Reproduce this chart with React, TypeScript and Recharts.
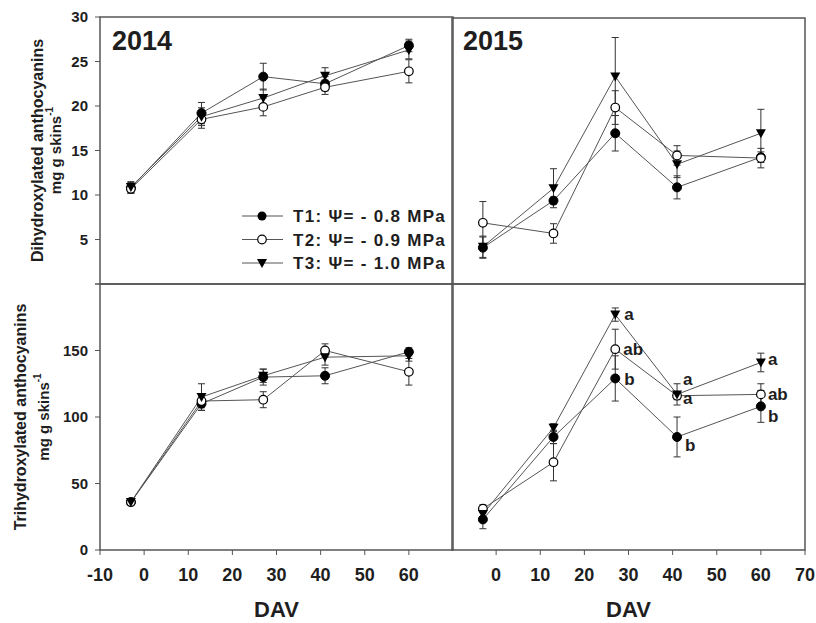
import React from 'react';
import { ErrorBar, LabelList, Line, LineChart, ReferenceArea, XAxis, YAxis } from 'recharts';

// sampling dates (days after veraison)
const DAV = [-3, 13, 27, 41, 60];

// Dihydroxylated anthocyanins, 2014
const di14T1 = [10.8, 19.2, 23.3, 22.5, 26.8];
const di14T2 = [10.7, 18.5, 19.9, 22.1, 23.9];
const di14T3 = [10.9, 18.8, 20.9, 23.4, 26.3];
const di14E1 = [0.6, 1.2, 1.5, 0.8, 0.7];
const di14E2 = [0.5, 1.0, 1.0, 0.8, 1.3];
const di14E3 = [0.6, 1.0, 1.0, 0.9, 1.0];

// Dihydroxylated anthocyanins, 2015
const di15T1 = [4.1, 9.4, 17.0, 10.9, 14.3];
const di15T2 = [6.9, 5.7, 19.9, 14.5, 14.2];
const di15T3 = [4.2, 10.8, 23.4, 13.5, 17.0];
const di15E1 = [1.2, 0.4, 2.0, 1.3, 0.6];
const di15E2 = [2.4, 1.1, 1.9, 1.1, 1.1];
const di15E3 = [1.2, 2.2, 4.4, 1.5, 2.7];

// Trihydroxylated anthocyanins, 2014
const tri14T1 = [36, 110, 130, 131, 149];
const tri14T2 = [36, 112, 113, 150, 134];
const tri14T3 = [36, 115, 131, 145, 146];
const tri14E1 = [2, 5, 6, 6, 3];
const tri14E2 = [2, 5, 6, 5, 10];
const tri14E3 = [2, 10, 5, 6, 4];

// Trihydroxylated anthocyanins, 2015
const tri15T1 = [23, 85, 129, 85, 108];
const tri15T2 = [31, 66, 151, 116, 117];
const tri15T3 = [27, 92, 177, 117, 141];
const tri15E1 = [7, 5, 17, 15, 12];
const tri15E2 = [3, 14, 15, 3, 8];
const tri15E3 = [3, 3, 5, 8, 7];
const tri15L1 = ['', '', 'b', 'b', 'b'];
const tri15L2 = ['', '', 'ab', 'a', 'ab'];
const tri15L3 = ['', '', 'a', 'a', 'a'];

const LEGEND = ['T1: Ψ= - 0.8 MPa', 'T2: Ψ= - 0.9 MPa', 'T3: Ψ= - 1.0 MPa'];

const TICKS_X_LEFT = [-10, 0, 10, 20, 30, 40, 50, 60];
const TICKS_X_RIGHT = [0, 10, 20, 30, 40, 50, 60, 70];
const TICKS_Y_DI = [0, 5, 10, 15, 20, 25, 30];
const TICKS_Y_TRI = [0, 50, 100, 150, 200];

const FONT = '"Liberation Sans", Arial, sans-serif';
const INK = '#1e1e1e';
const LINE = '#555';

// where the significance letters sit next to their point
const LETTER_OFFSETS: Record<string, Array<[number, number]>> = {
  l1: [[0, 0], [0, 0], [9, 1], [8, 9], [7, 10]],
  l2: [[0, 0], [0, 0], [8, 0], [6, 3], [7, 0]],
  l3: [[0, 0], [0, 0], [9, 0], [6, -15], [7, -3]],
};

function rows(
  t1: number[], t2: number[], t3: number[],
  e1: number[], e2: number[], e3: number[],
  l1: string[] = [], l2: string[] = [], l3: string[] = [],
) {
  return DAV.map((x, i) => ({
    x, t1: t1[i], t2: t2[i], t3: t3[i], e1: e1[i], e2: e2[i], e3: e3[i],
    l1: l1[i] ?? '', l2: l2[i] ?? '', l3: l3[i] ?? '',
  }));
}

const filledDot = (p: any) =>
  p.cx == null ? null : <circle key={`a${p.index}`} cx={p.cx} cy={p.cy} r={4.5} fill="#000" stroke="#000" />;
const openDot = (p: any) =>
  p.cx == null ? null : <circle key={`b${p.index}`} cx={p.cx} cy={p.cy} r={4.3} fill="#fff" stroke="#000" strokeWidth={1.2} />;
const triDot = (p: any) =>
  p.cx == null ? null : (
    <path key={`c${p.index}`} d={`M${p.cx - 5},${p.cy - 4}L${p.cx + 5},${p.cy - 4}L${p.cx},${p.cy + 5}Z`} fill="#000" />
  );

const letterLabel = (key: string) => (p: any) => {
  if (!p.value) return null;
  const [dx, dy] = LETTER_OFFSETS[key][p.index] ?? [8, 0];
  return (
    <text key={`${key}${p.index}`} x={p.x + dx} y={p.y + dy} dominantBaseline="central"
      fontFamily={FONT} fontWeight="bold" fontSize={17} fill={INK}>
      {p.value}
    </text>
  );
};

interface PanelProps {
  data: ReturnType<typeof rows>;
  left: number;
  top: number;
  width: number;
  height: number;
  margin: { top: number; right: number; bottom: number; left: number };
  yMax: number;
  yTicks: number[];
  hiddenTick?: number;
  showY: boolean;
  xTicks?: number[];
  yLabel?: [string, number, number];
  letters?: boolean;
}

function Panel({ data, left, top, width, height, margin, yMax, yTicks, hiddenTick, showY, xTicks, yLabel, letters }: PanelProps) {
  const tickStyle = { fontFamily: FONT, fontWeight: 'bold' as const, fill: INK };
  return (
    <div style={{ position: 'absolute', left, top }}>
      <LineChart width={width} height={height} data={data} margin={margin} style={{ overflow: 'visible' }}>
        {xTicks ? (
          <XAxis dataKey="x" type="number" domain={[-10, 70]} ticks={xTicks} axisLine={false}
            tickSize={5} tickMargin={13} height={height - margin.top - margin.bottom - 266}
            tickLine={{ stroke: LINE }} tick={{ ...tickStyle, fontSize: 18 }} interval={0}
            label={{
              content: ({ viewBox }: any) => (
                <text x={viewBox.x + viewBox.width / 2} y={viewBox.y + 67} textAnchor="middle"
                  fontFamily={FONT} fontWeight="bold" fontSize={22} fill={INK}>DAV</text>
              ),
            }} />
        ) : (
          <XAxis dataKey="x" type="number" domain={[-10, 70]} hide />
        )}
        {showY ? (
          <YAxis type="number" domain={[0, yMax]} ticks={yTicks} width={100} axisLine={false}
            tickSize={5} tickMargin={7} tickLine={{ stroke: LINE }} interval={0}
            tick={{ ...tickStyle, fontSize: 15 }}
            tickFormatter={(v: number) => (v === hiddenTick ? '' : String(v))}
            label={{
              content: ({ viewBox }: any) => {
                const cy = viewBox.y + viewBox.height / 2;
                const [title, x1, x2] = yLabel!;
                return (
                  <g fontFamily={FONT} fontWeight="bold" fill={INK}>
                    <text x={x1} y={cy} transform={`rotate(-90 ${x1} ${cy})`} textAnchor="middle"
                      dominantBaseline="central" fontSize={16}>{title}</text>
                    <text x={x2} y={cy} transform={`rotate(-90 ${x2} ${cy})`} textAnchor="middle"
                      dominantBaseline="central" fontSize={15}>
                      mg g skins<tspan fontSize={10} dy={-6}>-1</tspan>
                    </text>
                  </g>
                );
              },
            }} />
        ) : (
          <YAxis type="number" domain={[0, yMax]} hide />
        )}
        <ReferenceArea x1={-10} x2={70} y1={0} y2={yMax} fill="none" stroke={LINE} strokeWidth={1.5} />
        <Line dataKey="t1" stroke={LINE} strokeWidth={1} dot={filledDot} isAnimationActive={false}>
          <ErrorBar dataKey="e1" direction="y" width={3.5} stroke="#333" strokeWidth={1} isAnimationActive={false} />
          {letters && <LabelList dataKey="l1" content={letterLabel('l1')} />}
        </Line>
        <Line dataKey="t2" stroke={LINE} strokeWidth={1} dot={openDot} isAnimationActive={false}>
          <ErrorBar dataKey="e2" direction="y" width={3.5} stroke="#333" strokeWidth={1} isAnimationActive={false} />
          {letters && <LabelList dataKey="l2" content={letterLabel('l2')} />}
        </Line>
        <Line dataKey="t3" stroke={LINE} strokeWidth={1} dot={triDot} isAnimationActive={false}>
          <ErrorBar dataKey="e3" direction="y" width={3.5} stroke="#333" strokeWidth={1} isAnimationActive={false} />
          {letters && <LabelList dataKey="l3" content={letterLabel('l3')} />}
        </Line>
      </LineChart>
    </div>
  );
}

const LEGEND_MARKERS = [
  (x: number, y: number) => <circle cx={x} cy={y} r={4.5} fill="#000" />,
  (x: number, y: number) => <circle cx={x} cy={y} r={4.3} fill="#fff" stroke="#000" strokeWidth={1.2} />,
  (x: number, y: number) => <path d={`M${x - 5},${y - 4}L${x + 5},${y - 4}L${x},${y + 5}Z`} fill="#000" />,
];

export default function App() {
  const leftMargin = { top: 17, right: 2, bottom: 5, left: 0 };
  const rightMargin = { top: 18, right: 7, bottom: 5, left: 12 };
  return (
    <div style={{ position: 'absolute', left: 0, top: 0, width: 816, height: 623, background: '#fff', overflow: 'hidden' }}>
      <Panel data={rows(di14T1, di14T2, di14T3, di14E1, di14E2, di14E3)} left={0} top={0} width={455} height={289}
        margin={leftMargin} yMax={30} yTicks={TICKS_Y_DI} hiddenTick={0} showY
        yLabel={['Dihydroxylated anthocyanins', 37, 55]} />
      <Panel data={rows(di15T1, di15T2, di15T3, di15E1, di15E2, di15E3)} left={440} top={0} width={372} height={289}
        margin={rightMargin} yMax={30} yTicks={TICKS_Y_DI} showY={false} />
      <Panel data={rows(tri14T1, tri14T2, tri14T3, tri14E1, tri14E2, tri14E3)} left={0} top={279} width={455} height={344}
        margin={{ top: 5, right: 2, bottom: 0, left: 0 }} yMax={200} yTicks={TICKS_Y_TRI} hiddenTick={200} showY
        xTicks={TICKS_X_LEFT} yLabel={['Trihydroxylated anthocyanins', 20, 43]} />
      <Panel data={rows(tri15T1, tri15T2, tri15T3, tri15E1, tri15E2, tri15E3, tri15L1, tri15L2, tri15L3)} left={440} top={279}
        width={376} height={344} margin={{ top: 5, right: 11, bottom: 0, left: 12 }} yMax={200} yTicks={TICKS_Y_TRI}
        showY={false} xTicks={TICKS_X_RIGHT} letters />

      <svg width={816} height={623} style={{ position: 'absolute', left: 0, top: 0, pointerEvents: 'none' }}>
        <g fontFamily={FONT} fontWeight="bold" fill={INK}>
          <text x={112} y={50} fontSize={27}>2014</text>
          <text x={463} y={50} fontSize={27}>2015</text>
          {LEGEND.map((label, i) => {
            const y = 216 + i * 23.5;
            return (
              <g key={label}>
                <line x1={242} x2={283} y1={y} y2={y} stroke={LINE} strokeWidth={1} />
                {LEGEND_MARKERS[i](262, y)}
                <text x={293} y={y + 6} fontSize={17} letterSpacing={1.3}>{label}</text>
              </g>
            );
          })}
        </g>
      </svg>
    </div>
  );
}
